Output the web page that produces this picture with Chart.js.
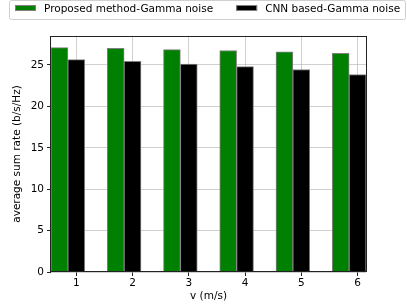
<!DOCTYPE html>
<html>
<head>
<meta charset="utf-8">
<script src="https://cdn.jsdelivr.net/npm/chart.js@4.4.0/dist/chart.umd.min.js"></script>
<style>
  html, body { margin: 0; padding: 0; background: #fff; }
</style>
</head>
<body>
<canvas id="graficoRate" width="407" height="306"></canvas>
<script>
// values
const speeds = [1, 2, 3, 4, 5, 6];
const proposedRate = [27.1, 27.0, 26.85, 26.75, 26.6, 26.4];
const cnnRate = [25.65, 25.45, 25.1, 24.8, 24.45, 23.85];
const yTicks = [0, 5, 10, 15, 20, 25];

const FONT = '"DejaVu Sans", sans-serif';
const FSIZE = 10.5;
const gridColor = 'rgba(176, 176, 176, 0.6)';

// matplotlib-like frame + legend box
const framePlugin = {
    id: 'framePlugin',
    afterDraw(chart) {
        const ctx = chart.ctx;
        const a = chart.chartArea;
        ctx.save();
        ctx.strokeStyle = '#222';
        ctx.lineWidth = 1;
        ctx.strokeRect(Math.round(a.left) - 0.5, Math.round(a.top) + 0.5,
            Math.round(a.right - a.left) + 1, Math.round(a.bottom - a.top) - 1);

        // legend
        ctx.strokeStyle = '#cfcfcf';
        ctx.beginPath();
        ctx.roundRect(9.5, 0.5, 396, 19, 2);
        ctx.stroke();
        ctx.font = FSIZE + 'px ' + FONT;
        ctx.textBaseline = 'middle';
        let x = 15;
        chart.data.datasets.forEach(ds => {
            ctx.fillStyle = ds.backgroundColor;
            ctx.fillRect(x, 5.5, 21, 5);
            ctx.strokeStyle = ds.borderColor;
            ctx.strokeRect(x + 0.5, 5.5, 20, 5);
            ctx.fillStyle = '#000';
            ctx.fillText(ds.label, x + 29, 9);
            x += 29 + ctx.measureText(ds.label).width + 23;
        });
        ctx.restore();
    }
};

const ctx = document.getElementById('graficoRate').getContext('2d');
const myChart = new Chart(ctx, {
    type: 'bar',
    data: {
        datasets: [{
            label: 'Proposed method-Gamma noise',
            data: speeds.map((v, i) => ({ x: v - 0.3, y: proposedRate[i] })),
            backgroundColor: '#008000',
            borderColor: '#808080',
            borderWidth: 1,
            grouped: false,
            categoryPercentage: 1,
            barPercentage: 1
        }, {
            label: 'CNN based-Gamma noise',
            data: speeds.map((v, i) => ({ x: v, y: cnnRate[i] })),
            backgroundColor: '#000000',
            borderColor: '#808080',
            borderWidth: 1,
            grouped: false,
            categoryPercentage: 1,
            barPercentage: 1
        }]
    },
    options: {
        responsive: false,
        animation: false,
        layout: { padding: { top: 36, right: 41, left: 0, bottom: 0 } },
        plugins: {
            legend: { display: false },
            tooltip: { enabled: false }
        },
        scales: {
            x: {
                type: 'linear',
                min: 0.55,
                max: 6.15,
                bounds: 'data',
                offset: false,
                z: 1,
                afterBuildTicks: s => { s.ticks = speeds.map(v => ({ value: v })); },
                afterFit: s => { s.height = 34; },
                ticks: { color: '#000', font: { family: FONT, size: FSIZE }, padding: 1 },
                grid: { offset: false, color: gridColor, lineWidth: 1, tickColor: '#222', tickLength: 4 },
                border: { display: false },
                title: { display: true, text: 'v (m/s)', color: '#000', font: { family: FONT, size: FSIZE }, padding: { top: 0, bottom: 3 } }
            },
            y: {
                min: 0,
                max: 28.5,
                bounds: 'data',
                z: 1,
                afterBuildTicks: s => { s.ticks = yTicks.map(v => ({ value: v })); },
                afterFit: s => { s.width = 51; },
                ticks: { color: '#000', font: { family: FONT, size: FSIZE }, padding: 3 },
                grid: { color: gridColor, lineWidth: 1, tickColor: '#222', tickLength: 4 },
                border: { display: false },
                title: { display: true, text: 'average sum rate (b/s/Hz)', color: '#000', font: { family: FONT, size: FSIZE }, padding: { top: 11, bottom: 0 } }
            }
        }
    },
    plugins: [framePlugin]
});
</script>
</body>
</html>
